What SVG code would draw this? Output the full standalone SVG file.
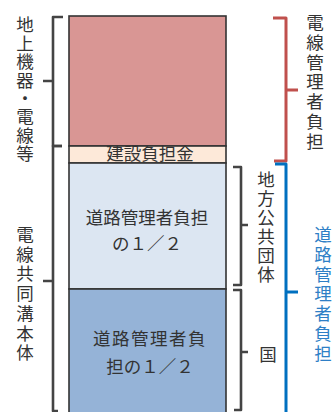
<svg xmlns="http://www.w3.org/2000/svg" width="336" height="412" viewBox="0 0 336 412">
<style>
text{font-family:"Noto Sans CJK JP","Noto Sans CJK SC",sans-serif;font-size:17.5px;fill:#333;text-anchor:middle}
.v{writing-mode:vertical-rl;text-anchor:start}
.box{stroke:#333;stroke-width:1.6}
.br{fill:none;stroke-width:2.6;stroke-linejoin:round;stroke-linecap:butt}
.g{stroke:#444}
.r{stroke:#c0504d;stroke-width:3}
.b{stroke:#0070c0;stroke-width:3}
</style>
<rect width="336" height="412" fill="#fff"/>
<g id="red-block"><rect class="box" x="69" y="16" width="157" height="130" fill="#d99694"/></g>
<g id="contribution"><rect class="box" x="69" y="146" width="157" height="17" fill="#fde9d9"/><text x="150" y="159.5">建設負担金</text></g>
<g id="local-share"><rect class="box" x="69" y="163" width="157" height="126" fill="#dce6f2"/><text x="147" y="224">道路管理者負担</text><text x="147" y="250">の１／２</text></g>
<g id="national-share"><rect class="box" x="69" y="289" width="157" height="130" fill="#95b3d7"/><text x="150" y="345" letter-spacing="1.5">道路管理者負</text><text x="150" y="373">担の１／２</text></g>
<g id="connectors">
<path class="br g" d="M63,17 H53 V146 H62 M53,81 H43"/>
<path class="br g" d="M62,146 H53 V411 H58 M53,281 H43"/>
<path class="br g" d="M233,167 H241 V285 H233 M241,225 H248"/>
<path class="br g" d="M233,290 H241 V410 H234 M241,352 H248"/>
<path class="br r" d="M273,18 H286 V161 H274 M286,90 H298"/>
<path class="br b" d="M275,164 H286 V412 M286,292 H298"/>
</g>
<g id="label-left-top"><text class="v" x="25" y="16" letter-spacing="0.9">地上機器・電線等</text></g>
<g id="label-left-bottom"><text class="v" x="25" y="225.7" letter-spacing="2.2">電線共同溝本体</text></g>
<g id="label-local"><text class="v" x="266" y="170.7" letter-spacing="1.5">地方公共団体</text></g>
<g id="label-national"><text x="268" y="361">国</text></g>
<g id="label-electric"><text class="v" x="315" y="13.7" letter-spacing="2.3">電線管理者負担</text></g>
<g id="label-road"><text class="v" x="323" y="225.7" letter-spacing="2.3" style="fill:#2e7fc6">道路管理者負担</text></g>
</svg>
